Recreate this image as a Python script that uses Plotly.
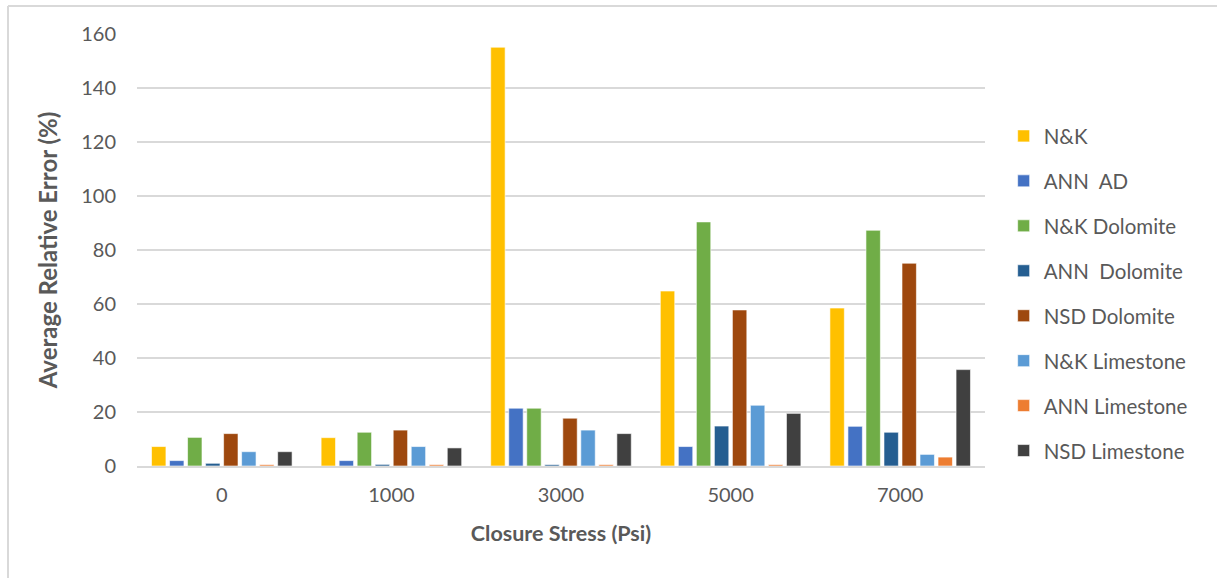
import plotly.graph_objects as go

# Closure stress levels (Psi)
stress = ["0", "1000", "3000", "5000", "7000"]

# Average relative error (%) per correlation / formation
nk = [7.2, 10.5, 155.1, 64.8, 58.5]
ann_ad = [2.0, 2.0, 21.4, 7.2, 14.7]
nk_dolomite = [10.6, 12.5, 21.4, 90.4, 87.3]
ann_dolomite = [1.0, 0.6, 0.5, 14.8, 12.5]
nsd_dolomite = [12.0, 13.3, 17.7, 57.8, 75.1]
nk_limestone = [5.3, 7.2, 13.3, 22.5, 4.3]
ann_limestone = [0.5, 0.5, 0.5, 0.5, 3.3]
nsd_limestone = [5.3, 6.7, 12.0, 19.5, 35.7]

series = [
    ("N&K", nk, "#FFC000"),
    ("ANN  AD", ann_ad, "#4472C4"),
    ("N&K Dolomite", nk_dolomite, "#70AD47"),
    ("ANN  Dolomite", ann_dolomite, "#255E91"),
    ("NSD Dolomite", nsd_dolomite, "#9E480E"),
    ("N&K Limestone", nk_limestone, "#5B9BD5"),
    ("ANN Limestone", ann_limestone, "#ED7D31"),
    ("NSD Limestone", nsd_limestone, "#404040"),
]

FONT = "Lato, 'Open Sans', sans-serif"
GRAY = "#595959"

fig = go.Figure()
for i, (name, vals, color) in enumerate(series):
    fig.add_trace(go.Bar(
        name=name, x=stress, y=vals,
        marker=dict(color=color, line=dict(color="white", width=0.6)),
        legendgroup=f"g{i}",
    ))

fig.update_layout(
    width=1217, height=578,
    margin=dict(l=137, r=232, t=34, b=112),
    paper_bgcolor="white", plot_bgcolor="white",
    barmode="group", bargap=0.15, bargroupgap=0.2,
    font=dict(family=FONT, color=GRAY, size=20),
    showlegend=True,
    legend=dict(
        x=1.022, y=0.81, xanchor="left", yanchor="top",
        font=dict(family=FONT, size=20.5, color=GRAY),
        tracegroupgap=15.3, itemwidth=30,
        bgcolor="rgba(0,0,0,0)",
    ),
    xaxis=dict(
        showline=True, linecolor="#D9D9D9", linewidth=1.5,
        showgrid=False, ticks="", ticklabelstandoff=10,
        tickfont=dict(size=20),
        title=dict(text="<b>Closure Stress (Psi)</b>",
                   font=dict(family=FONT, size=21.5, color=GRAY), standoff=21),
    ),
    yaxis=dict(
        range=[0, 160], dtick=20, tick0=0,
        showgrid=True, gridcolor="#D9D9D9", gridwidth=1.5,
        zeroline=False, showline=False, ticks="", ticklabelstandoff=20,
        tickfont=dict(size=20),
        title=dict(text="<b>Average Relative Error (%)</b>",
                   font=dict(family=FONT, size=24, color=GRAY), standoff=16),
    ),
    shapes=[
        dict(type="line", xref="paper", yref="paper",
             x0=(8 - 137) / 848, x1=(1217 - 137) / 848,
             y0=(578 - 112 - 6) / 432, y1=(578 - 112 - 6) / 432,
             line=dict(color="#D9D9D9", width=2)),
        dict(type="line", xref="paper", yref="paper",
             x0=(8 - 137) / 848, x1=(8 - 137) / 848,
             y0=(578 - 112 - 6) / 432, y1=-112 / 432,
             line=dict(color="#D9D9D9", width=2)),
    ],
)

fig.write_html("out.html")
